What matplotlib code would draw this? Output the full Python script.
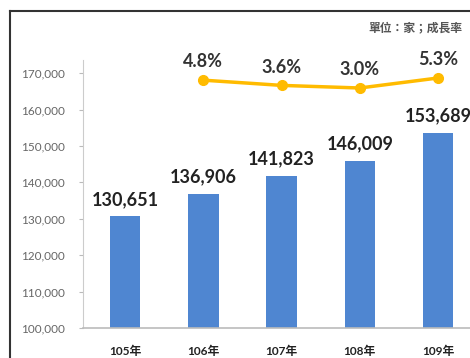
import matplotlib
matplotlib.use("Agg")
import matplotlib.pyplot as plt
from matplotlib.lines import Line2D

# chart data
years = ["105年", "106年", "107年", "108年", "109年"]
companies = [130651, 136906, 141823, 146009, 153689]
growth_years = ["106年", "107年", "108年", "109年"]
growth = [4.8, 3.6, 3.0, 5.3]
unit_note = "單位：家；成長率"

BAR_COLOR = "#4F86D1"
LINE_COLOR = "#FFBB00"
FONT = ["Lato", "Noto Sans CJK TC", "DejaVu Sans"]
plt.rcParams["font.family"] = FONT

fig = plt.figure(figsize=(4.7, 3.58), dpi=100)
ax = fig.add_axes([83 / 470, 30 / 358, 1 - 83 / 470, 268 / 358])

x = list(range(len(years)))
ax.bar(x, companies, width=0.39, color=BAR_COLOR, zorder=2)
ax.set_xlim(-0.54, 4.41)
ax.set_ylim(100000, 173626)
ax.set_yticks(range(100000, 170001, 10000))
ax.set_yticklabels([f"{v:,}" for v in range(100000, 170001, 10000)],
                   fontsize=8.5, color="#666666")
ax.set_xticks(x)
ax.set_xticklabels(years, fontsize=8.5, color="#222222", fontweight="bold")
ax.tick_params(axis="x", length=0, pad=13)
ax.tick_params(axis="y", length=3, color="#BBBBBB", pad=10)
for side in ["top", "right"]:
    ax.spines[side].set_visible(False)
ax.spines["left"].set_color("#CCCCCC")
ax.spines["bottom"].set_color("#BBBBBB")
ax.spines["bottom"].set_linewidth(1.2)

for xi, v in zip(x, companies):
    ax.annotate(f"{v:,}", (xi, v), xytext=(0, 6), textcoords="offset points",
                ha="center", va="bottom", fontsize=13, fontweight="bold",
                color="#222222")

# growth rate line on hidden secondary axis
ax2 = ax.twinx()
ax2.set_ylim(-52.2, 9.44)
ax2.axis("off")
gx = [years.index(y) for y in growth_years]
ax2.plot(gx, growth, color=LINE_COLOR, lw=2.5, marker="o", ms=7, zorder=3)
for xi, g in zip(gx, growth):
    ax2.annotate(f"{g:.1f}%", (xi, g), xytext=(0, 7), textcoords="offset points",
                 ha="center", va="bottom", fontsize=13, fontweight="bold",
                 color="#333333")

fig.text(462 / 470, 1 - 27 / 358, unit_note, ha="right", va="center",
         fontsize=8.5, color="#555555", fontweight="bold")

# outer frame
fig.add_artist(Line2D([10 / 470, 1], [1 - 11 / 358] * 2, color="#333333", lw=1.5))
fig.add_artist(Line2D([10 / 470] * 2, [0, 1 - 11 / 358], color="#333333", lw=1.5))

fig.savefig("out.png", dpi=100)
